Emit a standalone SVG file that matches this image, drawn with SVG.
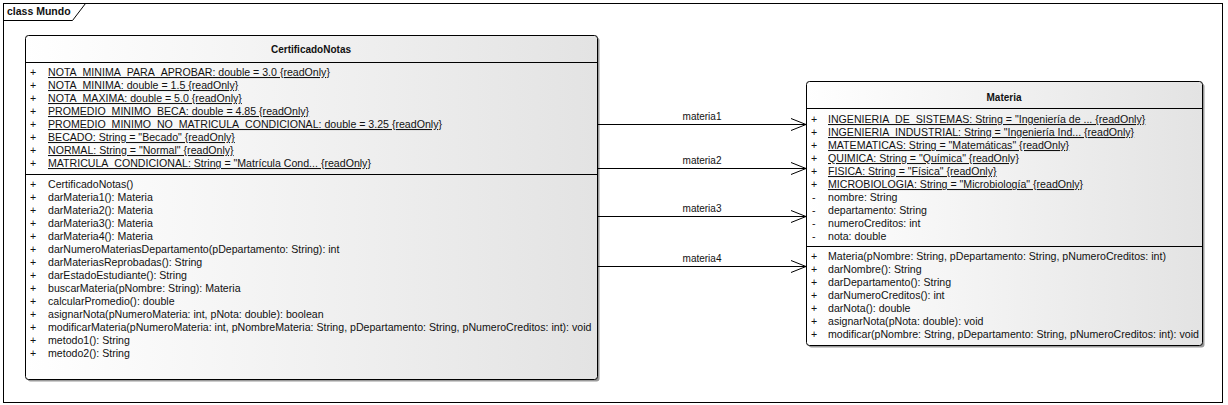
<svg xmlns="http://www.w3.org/2000/svg" width="1228" height="405" viewBox="0 0 1228 405">
<defs>
<linearGradient id="g" x1="0" y1="0" x2="1" y2="0">
<stop offset="0" stop-color="#ffffff"/>
<stop offset="1" stop-color="#e3e3e3"/>
</linearGradient>
<marker id="arr" markerWidth="18" markerHeight="14" refX="16" refY="7" orient="auto" markerUnits="userSpaceOnUse">
<path d="M1,1 L16,7 L1,13" fill="none" stroke="#000" stroke-width="1"/>
</marker>
<style>
text{font-family:"Liberation Sans",Arial,sans-serif;font-size:10.6px;fill:#111}
.t{font-weight:bold;font-size:10px}
.l{font-size:10px}
.u{text-decoration:underline}
.box{fill:url(#g);stroke:#000;stroke-width:1}
.sh{fill:#9a9a9a}
.sep{stroke:#000;stroke-width:1}
.c{stroke:#000;stroke-width:1;fill:none}
.frame{fill:#fff;stroke:#000;stroke-width:1}
</style>
</defs>
<rect width="1228" height="405" fill="#fff"/>
<g id="frame">
<rect class="frame" x="3.5" y="3.5" width="1219" height="399"/>
<path d="M3.5,20.5 H72.5 L85.5,3.5" fill="none" stroke="#000"/>
<text x="7" y="15" class="t" style="font-size:10.5px">class Mundo</text>
</g>
<g id="CertificadoNotas">
<rect class="sh" x="27.5" y="37.5" width="572" height="344" rx="3"/>
<rect class="box" x="25.5" y="35.5" width="572" height="344" rx="3"/>
<line class="sep" x1="25.5" y1="62.5" x2="597.5" y2="62.5"/>
<line class="sep" x1="25.5" y1="174.5" x2="597.5" y2="174.5"/>
<text x="311" y="53" class="t" text-anchor="middle">CertificadoNotas</text>
<g>
<text x="30" y="76">+</text><text x="48" y="76" class="u">NOTA_MINIMA_PARA_APROBAR: double = 3.0 {readOnly}</text>
<text x="30" y="89">+</text><text x="48" y="89" class="u">NOTA_MINIMA: double = 1.5 {readOnly}</text>
<text x="30" y="102">+</text><text x="48" y="102" class="u">NOTA_MAXIMA: double = 5.0 {readOnly}</text>
<text x="30" y="115">+</text><text x="48" y="115" class="u">PROMEDIO_MINIMO_BECA: double = 4.85 {readOnly}</text>
<text x="30" y="128">+</text><text x="48" y="128" class="u">PROMEDIO_MINIMO_NO_MATRICULA_CONDICIONAL: double = 3.25 {readOnly}</text>
<text x="30" y="141">+</text><text x="48" y="141" class="u">BECADO: String = "Becado" {readOnly}</text>
<text x="30" y="154">+</text><text x="48" y="154" class="u">NORMAL: String = "Normal" {readOnly}</text>
<text x="30" y="167">+</text><text x="48" y="167" class="u">MATRICULA_CONDICIONAL: String = "Matrícula Cond... {readOnly}</text>
</g>
<g>
<text x="30" y="188">+</text><text x="48" y="188">CertificadoNotas()</text>
<text x="30" y="201">+</text><text x="48" y="201">darMateria1(): Materia</text>
<text x="30" y="214">+</text><text x="48" y="214">darMateria2(): Materia</text>
<text x="30" y="227">+</text><text x="48" y="227">darMateria3(): Materia</text>
<text x="30" y="240">+</text><text x="48" y="240">darMateria4(): Materia</text>
<text x="30" y="253">+</text><text x="48" y="253">darNumeroMateriasDepartamento(pDepartamento: String): int</text>
<text x="30" y="266">+</text><text x="48" y="266">darMateriasReprobadas(): String</text>
<text x="30" y="279">+</text><text x="48" y="279">darEstadoEstudiante(): String</text>
<text x="30" y="292">+</text><text x="48" y="292">buscarMateria(pNombre: String): Materia</text>
<text x="30" y="305">+</text><text x="48" y="305">calcularPromedio(): double</text>
<text x="30" y="318">+</text><text x="48" y="318">asignarNota(pNumeroMateria: int, pNota: double): boolean</text>
<text x="30" y="331">+</text><text x="48" y="331">modificarMateria(pNumeroMateria: int, pNombreMateria: String, pDepartamento: String, pNumeroCreditos: int): void</text>
<text x="30" y="344">+</text><text x="48" y="344">metodo1(): String</text>
<text x="30" y="357">+</text><text x="48" y="357">metodo2(): String</text>
</g>
</g>
<g id="Materia">
<rect class="sh" x="808.5" y="83.5" width="396" height="264" rx="3"/>
<rect class="box" x="806.5" y="81.5" width="396" height="264" rx="3"/>
<line class="sep" x1="806.5" y1="108.5" x2="1202.5" y2="108.5"/>
<line class="sep" x1="806.5" y1="246.5" x2="1202.5" y2="246.5"/>
<text x="1004" y="101" class="t" text-anchor="middle">Materia</text>
<g>
<text x="811" y="123">+</text><text x="828" y="123" class="u">INGENIERIA_DE_SISTEMAS: String = "Ingeniería de ... {readOnly}</text>
<text x="811" y="136">+</text><text x="828" y="136" class="u">INGENIERIA_INDUSTRIAL: String = "Ingeniería Ind... {readOnly}</text>
<text x="811" y="149">+</text><text x="828" y="149" class="u">MATEMATICAS: String = "Matemáticas" {readOnly}</text>
<text x="811" y="162">+</text><text x="828" y="162" class="u">QUIMICA: String = "Química" {readOnly}</text>
<text x="811" y="175">+</text><text x="828" y="175" class="u">FISICA: String = "Física" {readOnly}</text>
<text x="811" y="188">+</text><text x="828" y="188" class="u">MICROBIOLOGIA: String = "Microbiología" {readOnly}</text>
<text x="812" y="201">-</text><text x="828" y="201">nombre: String</text>
<text x="812" y="214">-</text><text x="828" y="214">departamento: String</text>
<text x="812" y="227">-</text><text x="828" y="227">numeroCreditos: int</text>
<text x="812" y="240">-</text><text x="828" y="240">nota: double</text>
</g>
<g>
<text x="811" y="260">+</text><text x="828" y="260">Materia(pNombre: String, pDepartamento: String, pNumeroCreditos: int)</text>
<text x="811" y="273">+</text><text x="828" y="273">darNombre(): String</text>
<text x="811" y="286">+</text><text x="828" y="286">darDepartamento(): String</text>
<text x="811" y="299">+</text><text x="828" y="299">darNumeroCreditos(): int</text>
<text x="811" y="312">+</text><text x="828" y="312">darNota(): double</text>
<text x="811" y="325">+</text><text x="828" y="325">asignarNota(pNota: double): void</text>
<text x="811" y="338">+</text><text x="828" y="338">modificar(pNombre: String, pDepartamento: String, pNumeroCreditos: int): void</text>
</g>
</g>
<g id="connectors">
<line class="c" x1="597.5" y1="124.5" x2="806" y2="124.5" marker-end="url(#arr)"/>
<line class="c" x1="597.5" y1="168.5" x2="806" y2="168.5" marker-end="url(#arr)"/>
<line class="c" x1="597.5" y1="216.5" x2="806" y2="216.5" marker-end="url(#arr)"/>
<line class="c" x1="597.5" y1="266.5" x2="806" y2="266.5" marker-end="url(#arr)"/>
<text x="702" y="120" class="l" text-anchor="middle">materia1</text>
<text x="702" y="164" class="l" text-anchor="middle">materia2</text>
<text x="702" y="212" class="l" text-anchor="middle">materia3</text>
<text x="702" y="262" class="l" text-anchor="middle">materia4</text>
</g>
</svg>
